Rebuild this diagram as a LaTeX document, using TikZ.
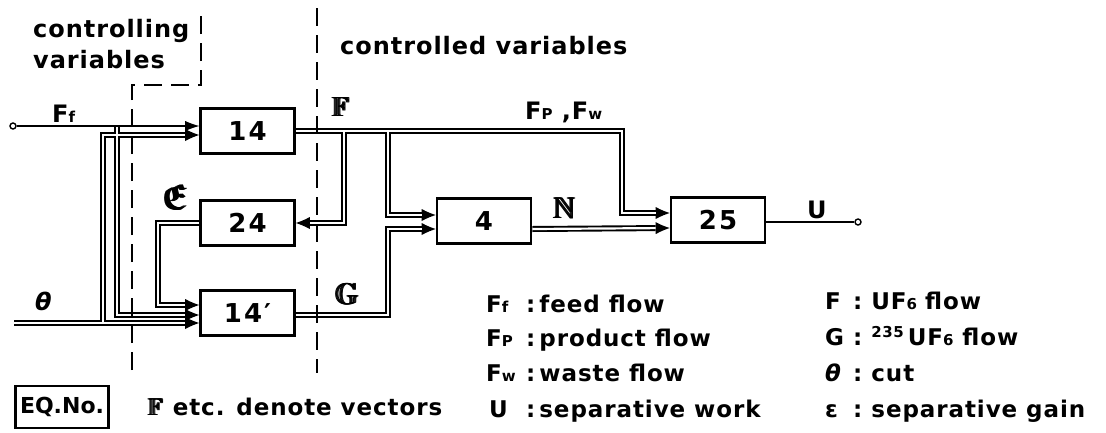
\documentclass[tikz,border=0pt]{standalone}
\usepackage{amssymb}
\usepackage{graphicx}
\usepackage{fontspec}
\setmainfont{DejaVu Sans}
\newfontfamily\boxfont{DejaVu Sans}[LetterSpace=8]
\newfontfamily\lblfont{DejaVu Sans}[LetterSpace=4]
\usetikzlibrary{arrows.meta,calc}
\newcommand\sm[1]{{\fontsize{15pt}{15pt}\selectfont #1}}
\newcommand\fb[1]{\rlap{#1}\kern0.6pt\rlap{#1}\kern0.6pt\rlap{#1}\kern0.6pt#1}
\newcommand\vsym[2]{\scalebox{#1}{\fb{$#2$}}}
\newcommand\legL[2]{\makebox[40pt][l]{#1}:\hspace{4pt}#2}
\newcommand\legR[2]{\makebox[28pt][l]{#1}:\hspace{9pt}#2}
\tikzset{
  blk/.style={draw, line width=2.6pt, minimum width=94pt, minimum height=45pt, inner sep=0pt,
    font=\boxfont\bfseries\fontsize{26pt}{30pt}\selectfont},
  lbl/.style={inner sep=0pt, anchor=base west, font=\lblfont\bfseries\fontsize{24pt}{28pt}\selectfont},
  leg/.style={inner sep=0pt, anchor=base west, font=\lblfont\bfseries\fontsize{23pt}{26pt}\selectfont},
  sep/.style={line width=1.6pt, dash pattern=on 18pt off 9pt},
  thinl/.style={line width=1.6pt},
  tipA/.style={-{Latex[length=14pt,width=12pt,line width=0pt]}},
  tipS/.style={-{Latex[length=14pt,width=10pt,line width=0pt]}},
  wout/.style={line width=6pt, black},
  win/.style={line width=2.2pt, white},
  port/.style={circle, draw, line width=1.4pt, inner sep=0pt, minimum size=6pt},
  eqbox/.style={draw, line width=2.4pt, minimum width=93pt, minimum height=42pt, inner sep=2pt,
    font=\bfseries\fontsize{22pt}{26pt}\selectfont},
}
\newcommand\wires[1]{%
  \draw[#1] (thS) -- ($(b14p.west)+(0,10)$);
  \draw[#1] (jTh) |- ($(b14.west)+(0,4)$);
  \draw[#1] (jFf) |- ($(b14p.west)+(0,2)$);
  \draw[#1] (b24.west) -| (cE) -- ($(b14p.west)+(0,-8)$);
  \draw[#1] (b14.east) -| (cF) -- ($(b25.west)+(0,-7)$);
  \draw[#1] (jF24) |- (b24.east);
  \draw[#1] (jF4) |- ($(b4.west)+(0,-6)$);
  \draw[#1] ($(b14p.east)+(0,2)$) -| (cG) -- ($(b4.west)+(0,8)$);
  \draw[#1] ($(b4.east)+(0,8)$) -- ($(b25.west)+(0,8)$);
}
\begin{document}
\begin{tikzpicture}[x=1pt,y=-1pt]
\useasboundingbox (0,0) rectangle (1106,432);
% blocks
\node[blk] (b14) at (247.5,131) {14};
\node[blk] (b24) at (247.5,223) {24};
\node[blk] (b14p) at (247.5,313) {14′};
\node[blk] (b4) at (484,221) {4};
\node[blk] (b25) at (718,220) {25};
\node[port] (ffin) at (13,126) {};
\node[port] (uout) at (858,222) {};
\coordinate (thS) at (14,323);
\coordinate (jTh) at (103,323);
\coordinate (jFf) at (117,126);
\coordinate (cE) at (158,305);
\coordinate (cF) at (622,213);
\coordinate (jF24) at (344,131);
\coordinate (jF4) at (388,131);
\coordinate (cG) at (388,229);
% double wires: outer black, then inner white
\wires{wout,tipA}
\wires{win,shorten >=14pt}
% single lines
\draw[thinl,tipS] (ffin) -- ($(b14.west)+(0,-5)$);
\draw[thinl] ($(b25.east)+(0,2)$) -- (uout);
% separators
\draw[sep] (132,370) -- (132,85) -- (201,85) -- (201,8);
\draw[sep] (317,8) -- (317,373);
% headings
\node[lbl] (h1) at (33,37) {controlling};
\node[lbl] (h2) at (33,68) {variables};
\node[lbl] (h3) at (340,54) {controlled variables};
% signal labels
\node[lbl] (lFf) at (52,122) {F\sm{f}};
\node[lbl] (lF) at (331,116) {\vsym{1.15}{\mathbb{F}}};
\node[lbl] (lFpw) at (525,119) {F\sm{P} ,F\sm{w}};
\node[lbl] (lN) at (552,218) {\vsym{1.25}{\mathbb{N}}};
\node[lbl] (lU) at (807,218) {U};
\node[lbl] (lG) at (334,304) {\vsym{1.25}{\mathbb{G}}};
\node[lbl] (lE) at (161,209) {\vsym{1.5}{\mathfrak{E}}};
\node[lbl] (lT) at (35,310) {\itshape θ};
% legend
\node[eqbox] (eq) at (62,407) {EQ.No.};
\node[leg] (vec) at (147,415) {\vsym{1.05}{\mathbb{F}} etc. denote vectors};
\node[leg] (g1) at (486,312) {\legL{F\sm{f}}{feed flow}};
\node[leg] (g2) at (486,346) {\legL{F\sm{P}}{product flow}};
\node[leg] (g3) at (486,381) {\legL{F\sm{w}}{waste flow}};
\node[leg] (g4) at (486,417) {\legL{\hspace{3pt}U}{separative work}};
\node[leg] (g5) at (825,309) {\legR{F}{UF\sm{6}\hspace{8pt}flow}};
\node[leg] (g6) at (825,345) {\legR{G}{\raisebox{8pt}{\sm{235}}\,UF\sm{6} flow}};
\node[leg] (g7) at (825,381) {\legR{\itshape θ}{cut}};
\node[leg] (g8) at (825,417) {\legR{ε}{separative gain}};
\end{tikzpicture}
\end{document}
